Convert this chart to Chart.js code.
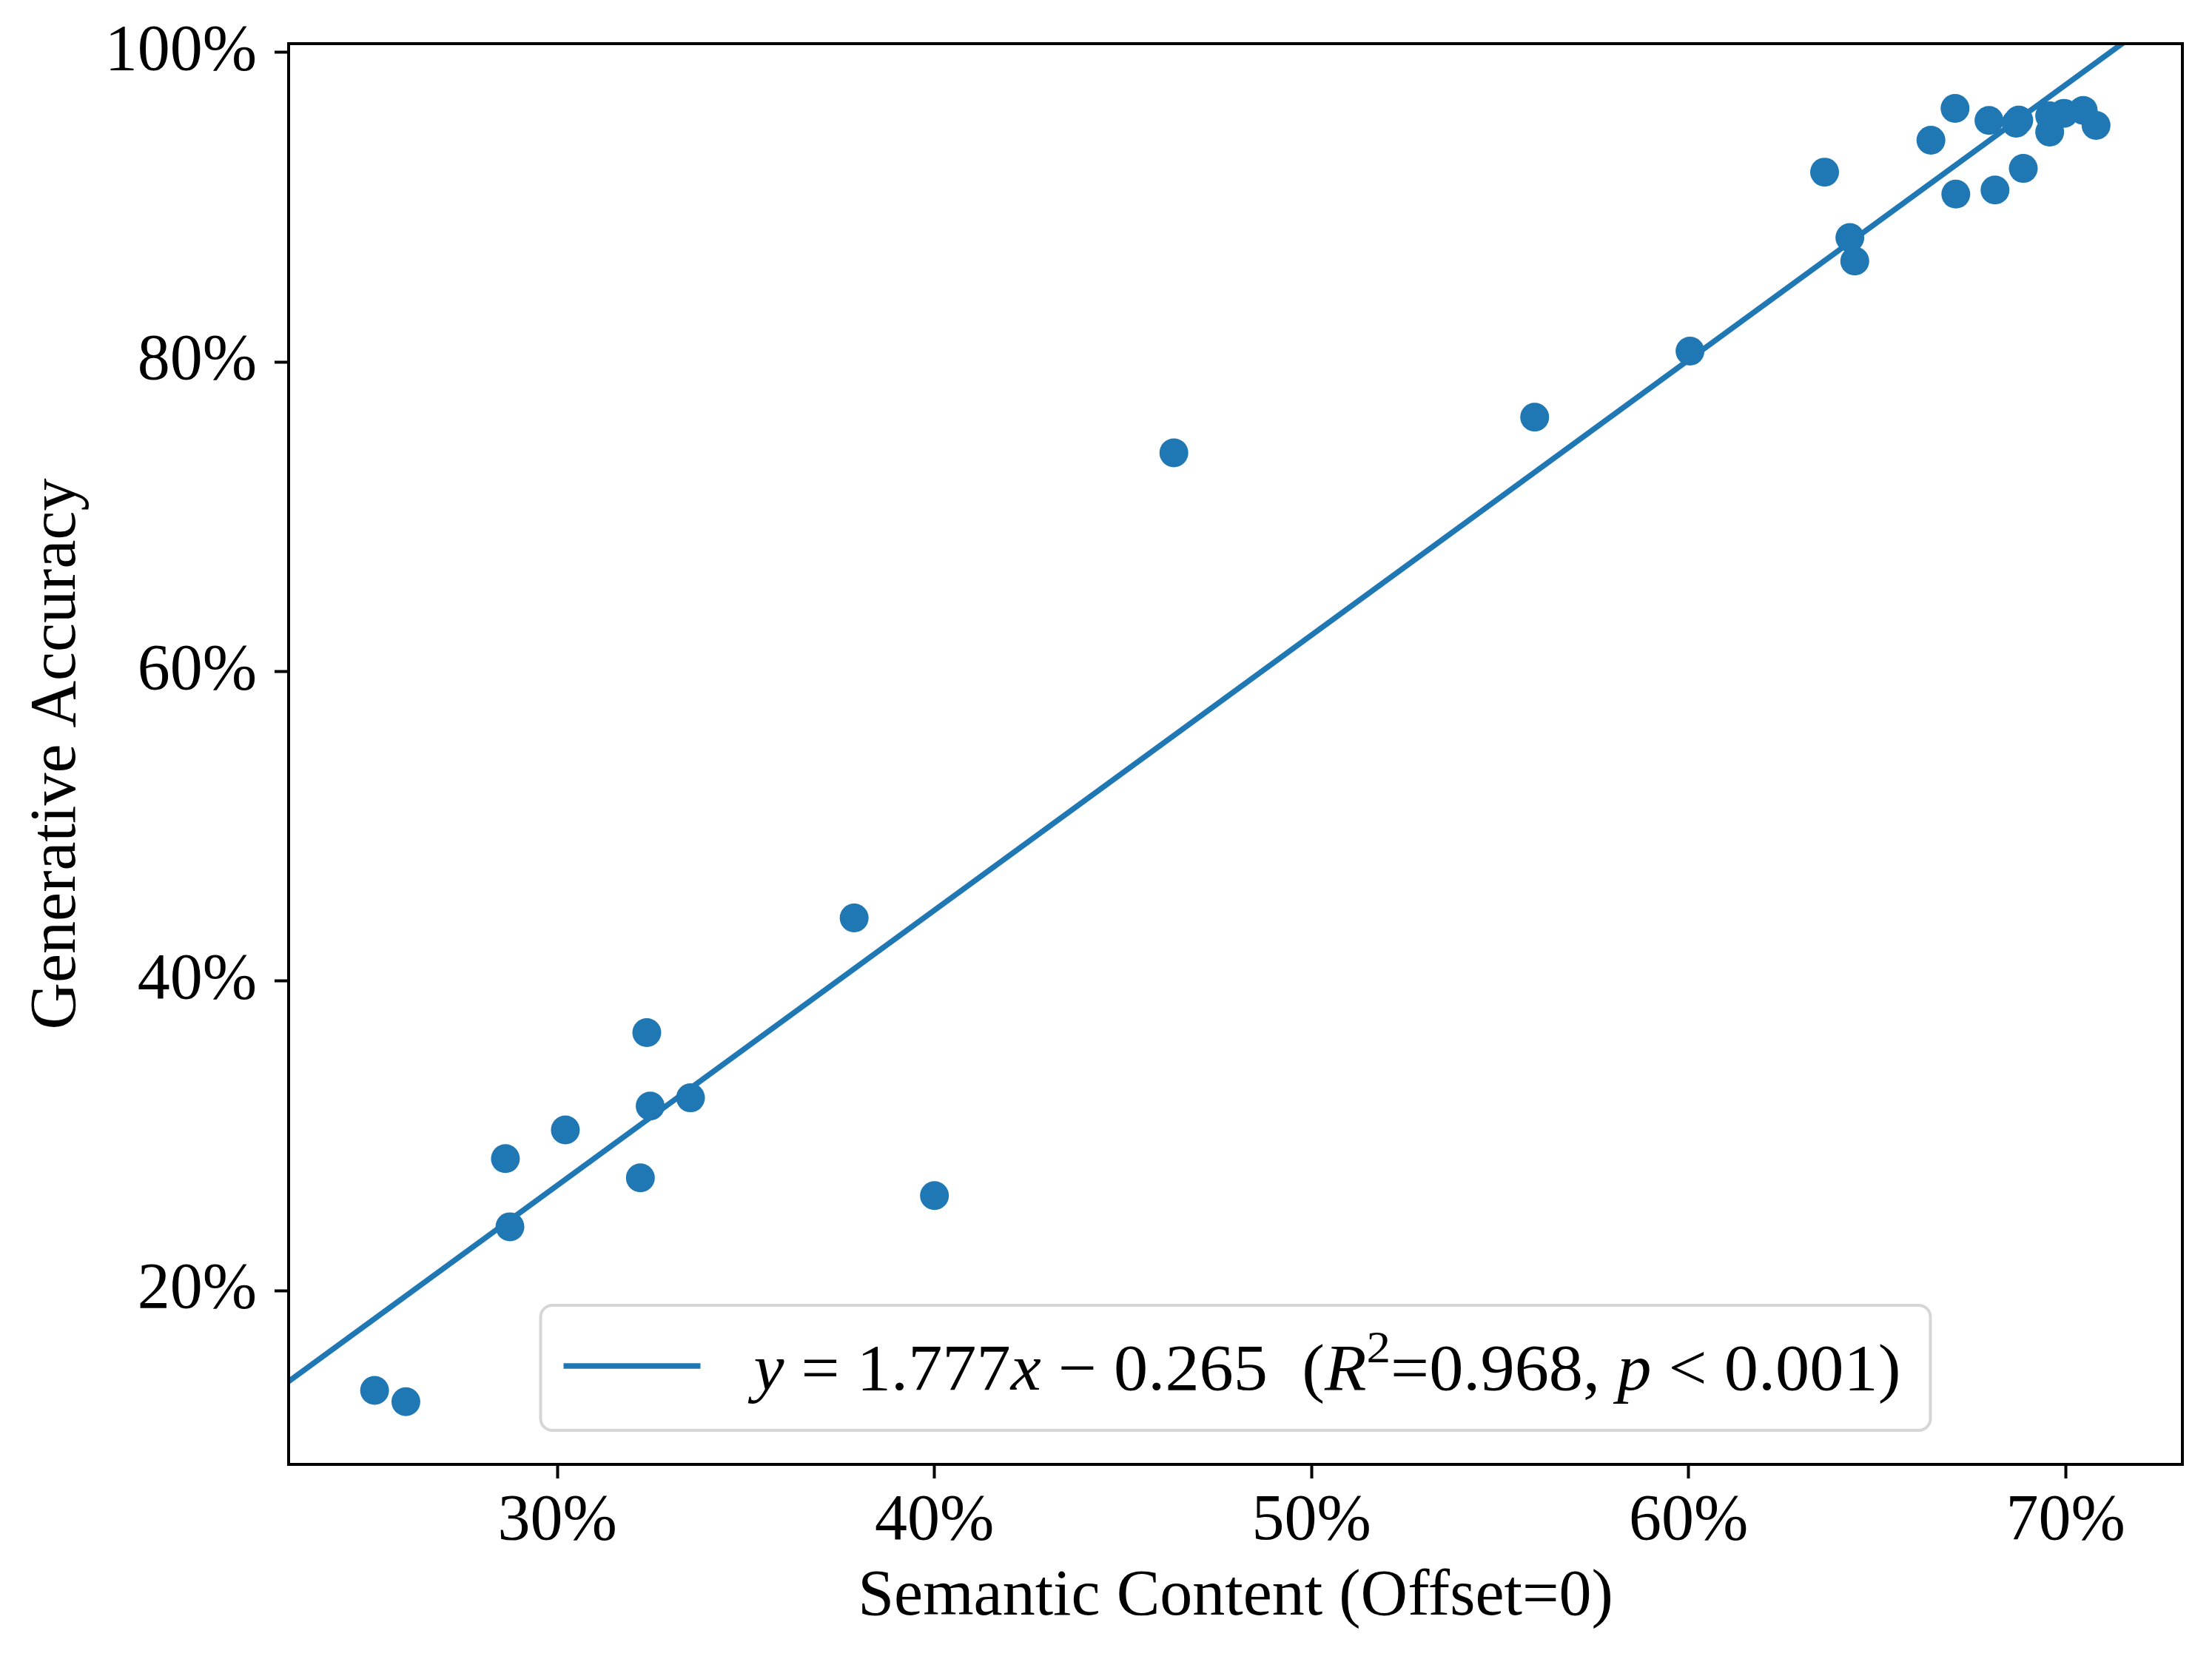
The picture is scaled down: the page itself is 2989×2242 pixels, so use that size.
<!DOCTYPE html>
<html>
<head>
<meta charset="utf-8">
<script src="https://cdn.jsdelivr.net/npm/chart.js@4.4.1/dist/chart.umd.min.js"></script>
<style>
  html, body { margin: 0; padding: 0; background: #fff; }
  #wrap { width: 2989px; height: 2242px; }
</style>
</head>
<body>
<div id="wrap"><canvas id="myChart" width="2989" height="2242"></canvas></div>
<script>
// values, in percent
const semantic = [25.15, 25.98, 28.62, 28.74, 30.21, 32.20, 32.37, 32.46, 33.53, 37.87,
  40.00, 46.35, 55.92, 60.04, 63.61, 64.28, 64.41, 66.43, 67.07, 67.09,
  67.97, 68.13, 68.69, 68.76, 68.88, 69.58, 69.58, 69.96, 70.47, 70.81]
const accuracy = [13.56, 12.83, 28.53, 24.13, 30.39, 27.29, 36.67, 31.93, 32.46, 44.08,
  26.14, 74.13, 76.43, 80.70, 92.26, 88.03, 86.52, 94.32, 96.38, 90.84,
  95.60, 91.11, 95.42, 95.62, 92.50, 95.90, 94.85, 96.06, 96.25, 95.28]

// fitted line y = 1.777x - 0.265, end points (clipped by the axes)
const fitX = [20, 75]
const fitY = [9.04, 106.78]

const xTicks = [30, 40, 50, 60, 70]
const yTicks = [20, 40, 60, 80, 100]
const xRange = [22.87, 73.10]
const yRange = [8.78, 100.56]

const blue = '#1f77b4'
const serif = 'Liberation Serif'

const frame = {
  id: 'frame',
  afterDatasetsDraw(chart) {
    const { ctx, chartArea: a } = chart
    ctx.save()
    ctx.strokeStyle = '#000'
    ctx.lineWidth = 4
    ctx.strokeRect(a.left, a.top, a.right - a.left, a.bottom - a.top)
    ctx.restore()
  }
}

// legend with mixed italic / roman math text
const fitLegend = {
  id: 'fitLegend',
  afterDraw(chart) {
    const { ctx, chartArea: a } = chart
    const w = 1878, h = 169
    const x0 = (a.left + a.right) / 2 - w / 2
    const y0 = a.bottom - 46 - h
    ctx.save()
    ctx.beginPath()
    ctx.roundRect(x0, y0, w, h, 16)
    ctx.fillStyle = 'rgba(255,255,255,0.8)'
    ctx.fill()
    ctx.lineWidth = 4
    ctx.strokeStyle = '#d6d6d6'
    ctx.stroke()

    ctx.beginPath()
    ctx.moveTo(x0 + 31, y0 + 82)
    ctx.lineTo(x0 + 216, y0 + 82)
    ctx.strokeStyle = blue
    ctx.lineWidth = 7.5
    ctx.stroke()

    const size = 88
    const parts = [
      ['y', 'italic'], [' = ', ''], ['1.777', ''], ['x', 'italic'], [' \u2212 ', ''],
      ['0.265', ''], ['  (', ''], ['R', 'italic'], ['2', 'sup'], ['=0.968, ', ''],
      ['p', 'italic'], [' < ', ''], ['0.001)', '']
    ]
    const fontOf = s => s === 'italic' ? `italic ${size}px "${serif}"` :
      s === 'sup' ? `${Math.round(size * 0.7)}px "${serif}"` : `${size}px "${serif}"`
    let total = 0
    parts.forEach(p => { ctx.font = fontOf(p[1]); total += ctx.measureText(p[0]).width })
    const tx = x0 + 288, base = y0 + 114
    const k = 1550 / total
    ctx.translate(tx, base)
    ctx.scale(k, 1)
    ctx.fillStyle = '#000'
    ctx.textBaseline = 'alphabetic'
    let cx = 0
    parts.forEach(p => {
      ctx.font = fontOf(p[1])
      ctx.fillText(p[0], cx, p[1] === 'sup' ? -size * 0.42 : 0)
      cx += ctx.measureText(p[0]).width
    })
    ctx.restore()
  }
}

const tickFont = { family: serif, size: 88, lineHeight: 1.2 }

new Chart(document.getElementById('myChart'), {
  data: {
    datasets: [{
      type: 'scatter',
      data: semantic.map((v, i) => ({ x: v, y: accuracy[i] })),
      pointRadius: 19.5,
      pointBackgroundColor: blue,
      pointBorderWidth: 0,
      borderWidth: 0
    }, {
      type: 'line',
      data: fitX.map((v, i) => ({ x: v, y: fitY[i] })),
      borderColor: blue,
      borderWidth: 7.5,
      pointRadius: 0,
      fill: false
    }]
  },
  options: {
    responsive: false,
    animation: false,
    devicePixelRatio: 1,
    events: [],
    layout: { padding: { left: 0, top: 59, right: 40, bottom: 0 } },
    plugins: { legend: { display: false }, tooltip: { enabled: false } },
    scales: {
      x: {
        type: 'linear', position: 'bottom',
        min: xRange[0], max: xRange[1],
        afterBuildTicks: s => { s.ticks = xTicks.map(v => ({ value: v })) },
        afterFit: s => { s.height = 263; s.paddingLeft = 0; s.paddingRight = 0 },
        ticks: { callback: v => v + '%', color: '#000', font: tickFont, padding: 6, autoSkip: false, maxRotation: 0 },
        grid: { drawOnChartArea: false, drawTicks: true, tickLength: 19, tickWidth: 4, tickColor: '#000' },
        border: { display: true, color: '#000', width: 4 },
        title: { display: true, text: 'Semantic Content (Offset=0)', color: '#000', font: tickFont, padding: { top: 0, bottom: 30 } }
      },
      y: {
        type: 'linear', position: 'left',
        min: yRange[0], max: yRange[1],
        afterBuildTicks: s => { s.ticks = yTicks.map(v => ({ value: v })) },
        afterFit: s => { s.width = 390; s.paddingTop = 0; s.paddingBottom = 0 },
        ticks: { callback: v => v + '%', color: '#000', font: tickFont, padding: 24, autoSkip: false },
        grid: { drawOnChartArea: false, drawTicks: true, tickLength: 19, tickWidth: 4, tickColor: '#000' },
        border: { display: true, color: '#000', width: 4 },
        title: { display: true, text: 'Generative Accuracy', color: '#000', font: tickFont, padding: { top: 25, bottom: 0 } }
      }
    }
  },
  plugins: [frame, fitLegend]
})
</script>
</body>
</html>
